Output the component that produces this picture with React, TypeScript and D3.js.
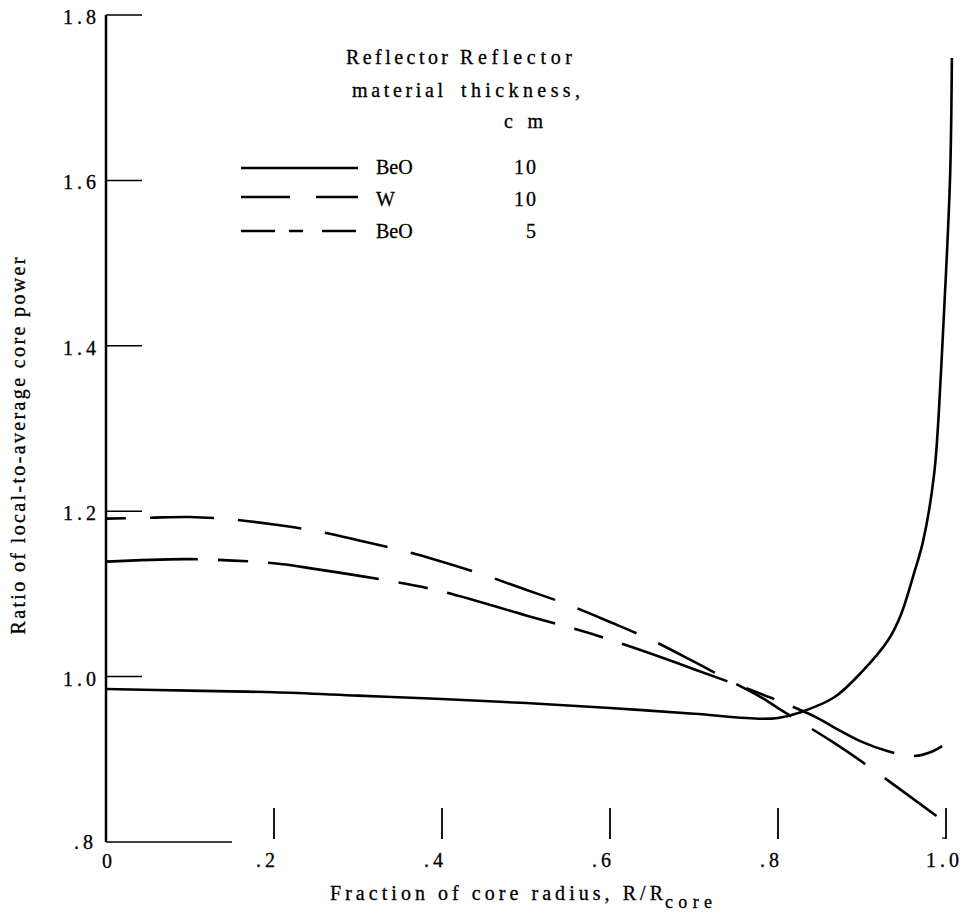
import React from "react";
import * as d3 from "d3";

// ---- data ----
const beo10X = [0, 0.1, 0.2, 0.3, 0.4, 0.5, 0.6, 0.7, 0.78, 0.8, 0.827, 0.867, 0.9, 0.931, 0.946, 0.962, 0.973, 0.986, 0.994, 1.0, 1.005, 1.007];
const beo10Y = [0.985, 0.983, 0.981, 0.977, 0.973, 0.968, 0.962, 0.955, 0.949, 0.95, 0.957, 0.975, 1.006, 1.044, 1.074, 1.125, 1.165, 1.246, 1.367, 1.488, 1.609, 1.748];

const w10X = [0, 0.05, 0.1, 0.15, 0.2, 0.25, 0.3, 0.35, 0.39, 0.45, 0.5, 0.55, 0.6, 0.65, 0.7, 0.735, 0.78, 0.8, 0.865, 0.9, 1.0];
const w10Y = [1.191, 1.192, 1.193, 1.19, 1.184, 1.176, 1.165, 1.153, 1.142, 1.123, 1.105, 1.087, 1.066, 1.044, 1.018, 0.999, 0.975, 0.962, 0.921, 0.897, 0.823];

const beo5X = [0, 0.1, 0.2, 0.25, 0.33, 0.4, 0.5, 0.577, 0.625, 0.7, 0.79, 0.845, 0.866, 0.9, 0.93, 0.962, 0.985, 1.006];
const beo5Y = [1.139, 1.142, 1.137, 1.13, 1.117, 1.103, 1.074, 1.052, 1.036, 1.009, 0.975, 0.951, 0.939, 0.921, 0.91, 0.904, 0.91, 0.923];

const xTicks = [0.2, 0.4, 0.6, 0.8, 1.0];
const xTickLabels = [".2", ".4", ".6", ".8", "1.0"];
const yTicks = [1.8, 1.6, 1.4, 1.2, 1.0];
const yTickLabels = ["1.8", "1.6", "1.4", "1.2", "1.0"];

const legendMaterials = ["BeO", "W", "BeO"];
const legendThickness = ["10", "10", "5"];

const FONT = "Liberation Serif, Times New Roman, serif";

export default function App() {
  const W = 970;
  const H = 915;
  const x = d3.scaleLinear().domain([0, 1]).range([106, 946]);
  const y = d3.scaleLinear().domain([0.8, 1.8]).range([842, 15]);
  const line = d3
    .line<[number, number]>()
    .x((d) => x(d[0]))
    .y((d) => y(d[1]))
    .curve(d3.curveCatmullRom.alpha(0.5));

  const series = [
    { xs: beo10X, ys: beo10Y, dash: "none", offset: 0 },
    { xs: w10X, ys: w10Y, dash: "64 24", offset: -44 },
    { xs: beo5X, ys: beo5Y, dash: "112 20 30 20", offset: 20 },
  ];
  const legendDash = ["none", "49 26", "34 14 14 19"];
  const legendRowY = [168, 197, 231];
  const legendTextY = [174, 206, 238];

  const txt = { fontSize: 20, stroke: "#000", strokeWidth: 0.3 } as const;

  return (
    <svg
      width={W}
      height={H}
      style={{ position: "absolute", left: 0, top: 0, background: "#fff", fontFamily: FONT }}
    >
      <rect x={0} y={0} width={W} height={H} fill="#fff" />
      {/* axes */}
      <line x1={x(0)} y1={y(1.8)} x2={x(0)} y2={y(0.8)} stroke="#000" strokeWidth={2.5} />
      <line x1={x(0)} y1={y(0.8)} x2={232} y2={y(0.8)} stroke="#000" strokeWidth={1.5} />
      {yTicks.map((t, i) => (
        <g key={"yt" + i}>
          <line x1={x(0)} y1={y(t)} x2={x(0) + 36} y2={y(t)} stroke="#000" strokeWidth={1.5} />
          <text x={100} y={y(t) + 9} textAnchor="end" {...txt} letterSpacing={4}>
            {yTickLabels[i]}
          </text>
        </g>
      ))}
      <text x={97} y={849} textAnchor="end" {...txt} letterSpacing={4}>.8</text>
      <text x={x(0) + 1} y={868} textAnchor="middle" {...txt}>0</text>
      {xTicks.map((t, i) => (
        <g key={"xt" + i}>
          <line x1={x(t)} y1={808} x2={x(t)} y2={839} stroke="#000" strokeWidth={1.8} />
          <text
            x={t === 1 ? x(t) + 17 : x(t) + 5}
            y={867}
            textAnchor="end"
            {...txt}
            letterSpacing={4}
          >
            {xTickLabels[i]}
          </text>
        </g>
      ))}
      <line x1={x(1) - 4} y1={838} x2={x(1)} y2={838} stroke="#000" strokeWidth={1.2} />

      {/* axis titles */}
      <text x={330} y={900} {...txt} textLength={333} lengthAdjust="spacing">
        Fraction of core radius, R/R
      </text>
      <text x={665} y={908} {...txt} fontSize={18} textLength={47} lengthAdjust="spacing">
        core
      </text>
      <text
        transform={`translate(25,446) rotate(-90)`}
        textAnchor="middle"
        {...txt}
        textLength={377}
        lengthAdjust="spacing"
      >
        Ratio of local-to-average core power
      </text>

      {/* curves */}
      {series.map((s, i) => (
        <path
          key={"s" + i}
          d={line(s.xs.map((v, j) => [v, s.ys[j]] as [number, number])) || ""}
          fill="none"
          stroke="#000"
          strokeWidth={2.6}
          strokeDasharray={s.dash}
          strokeDashoffset={s.offset}
        />
      ))}

      {/* legend */}
      <text x={346} y={64} {...txt} textLength={102} lengthAdjust="spacing">Reflector</text>
      <text x={460} y={64} {...txt} textLength={112} lengthAdjust="spacing">Reflector</text>
      <text x={352} y={97} {...txt} textLength={91} lengthAdjust="spacing">material</text>
      <text x={461} y={97} {...txt} textLength={119} lengthAdjust="spacing">thickness,</text>
      <text x={504} y={128} {...txt} textLength={39} lengthAdjust="spacing">cm</text>
      {legendMaterials.map((m, i) => (
        <g key={"lg" + i}>
          <line
            x1={241}
            y1={legendRowY[i]}
            x2={358}
            y2={legendRowY[i]}
            stroke="#000"
            strokeWidth={2.4}
            strokeDasharray={legendDash[i]}
          />
          <text x={376} y={legendTextY[i]} {...txt}>{m}</text>
          <text x={538} y={legendTextY[i]} {...txt} textAnchor="end" letterSpacing={2}>{legendThickness[i]}</text>
        </g>
      ))}
    </svg>
  );
}
